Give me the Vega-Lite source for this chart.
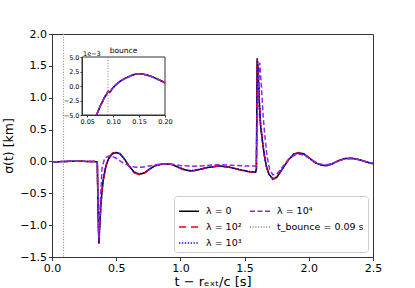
{
"$schema":"https://vega.github.io/schema/vega-lite/v6.json",
"width":321,"height":223,
"autosize":{"type":"none"},
"padding":{"left":52,"top":34,"right":42,"bottom":31},
"background":"white",
"config":{
 "font":"DejaVu Sans",
 "view":{"stroke":"#333","strokeWidth":1},
 "axis":{"grid":false,"labelFlush":false,"domainColor":"#333","tickColor":"#333","labelColor":"black","titleColor":"black","titleFontWeight":"normal","labelFont":"DejaVu Sans","titleFont":"DejaVu Sans"},
 "legend":{"orient":"bottom-right","offset":5,"columns":2,"columnPadding":5,"rowPadding":-4,"padding":4,"strokeColor":"#ccc","fillColor":"white","cornerRadius":3,"labelFontSize":9.5,"labelColor":"black","labelFont":"DejaVu Sans","symbolType":"stroke","symbolSize":400,"symbolStrokeWidth":1.5,"labelOffset":6}
},
"datasets":{
"main":[
{"s":"λ = 0","t":0,"v":-0.01},{"s":"λ = 0","t":0.05,"v":-0.004},{"s":"λ = 0","t":0.09,"v":-0.001},{"s":"λ = 0","t":0.1,"v":0},{"s":"λ = 0","t":0.15,"v":0.002},{"s":"λ = 0","t":0.2,"v":0.002},{"s":"λ = 0","t":0.25,"v":0.001},{"s":"λ = 0","t":0.3,"v":-0.001},{"s":"λ = 0","t":0.35,"v":-0.004},{"s":"λ = 0","t":0.353,"v":-0.02},{"s":"λ = 0","t":0.358,"v":-0.7},{"s":"λ = 0","t":0.365,"v":-1.29},{"s":"λ = 0","t":0.372,"v":-1.0},{"s":"λ = 0","t":0.38,"v":-0.7},{"s":"λ = 0","t":0.39,"v":-0.45},{"s":"λ = 0","t":0.4,"v":-0.28},{"s":"λ = 0","t":0.42,"v":-0.07},{"s":"λ = 0","t":0.44,"v":0.04},{"s":"λ = 0","t":0.47,"v":0.12},{"s":"λ = 0","t":0.5,"v":0.14},{"s":"λ = 0","t":0.53,"v":0.12},{"s":"λ = 0","t":0.56,"v":0.05},{"s":"λ = 0","t":0.6,"v":-0.07},{"s":"λ = 0","t":0.64,"v":-0.17},{"s":"λ = 0","t":0.68,"v":-0.2},{"s":"λ = 0","t":0.72,"v":-0.18},{"s":"λ = 0","t":0.76,"v":-0.12},{"s":"λ = 0","t":0.8,"v":-0.07},{"s":"λ = 0","t":0.85,"v":-0.045},{"s":"λ = 0","t":0.89,"v":-0.04},{"s":"λ = 0","t":0.93,"v":-0.045},{"s":"λ = 0","t":0.98,"v":-0.09},{"s":"λ = 0","t":1.03,"v":-0.13},{"s":"λ = 0","t":1.08,"v":-0.15},{"s":"λ = 0","t":1.13,"v":-0.135},{"s":"λ = 0","t":1.2,"v":-0.1},{"s":"λ = 0","t":1.3,"v":-0.07},{"s":"λ = 0","t":1.38,"v":-0.09},{"s":"λ = 0","t":1.46,"v":-0.13},{"s":"λ = 0","t":1.53,"v":-0.16},{"s":"λ = 0","t":1.585,"v":-0.17},{"s":"λ = 0","t":1.592,"v":-0.12},{"s":"λ = 0","t":1.595,"v":0.8},{"s":"λ = 0","t":1.598,"v":1.62},{"s":"λ = 0","t":1.605,"v":1.45},{"s":"λ = 0","t":1.615,"v":0.9},{"s":"λ = 0","t":1.625,"v":0.55},{"s":"λ = 0","t":1.64,"v":0.3},{"s":"λ = 0","t":1.655,"v":0.08},{"s":"λ = 0","t":1.67,"v":-0.08},{"s":"λ = 0","t":1.69,"v":-0.2},{"s":"λ = 0","t":1.72,"v":-0.275},{"s":"λ = 0","t":1.75,"v":-0.25},{"s":"λ = 0","t":1.79,"v":-0.13},{"s":"λ = 0","t":1.84,"v":0.02},{"s":"λ = 0","t":1.88,"v":0.11},{"s":"λ = 0","t":1.92,"v":0.135},{"s":"λ = 0","t":1.96,"v":0.12},{"s":"λ = 0","t":2.0,"v":0.06},{"s":"λ = 0","t":2.05,"v":-0.02},{"s":"λ = 0","t":2.1,"v":-0.06},{"s":"λ = 0","t":2.14,"v":-0.065},{"s":"λ = 0","t":2.18,"v":-0.04},{"s":"λ = 0","t":2.23,"v":0.01},{"s":"λ = 0","t":2.28,"v":0.045},{"s":"λ = 0","t":2.33,"v":0.05},{"s":"λ = 0","t":2.38,"v":0.035},{"s":"λ = 0","t":2.43,"v":0.005},{"s":"λ = 0","t":2.47,"v":-0.02},{"s":"λ = 0","t":2.5,"v":-0.035},
{"s":"λ = 10²","t":0,"v":-0.01},{"s":"λ = 10²","t":0.05,"v":-0.004},{"s":"λ = 10²","t":0.09,"v":-0.001},{"s":"λ = 10²","t":0.1,"v":0},{"s":"λ = 10²","t":0.15,"v":0.002},{"s":"λ = 10²","t":0.2,"v":0.002},{"s":"λ = 10²","t":0.25,"v":0.001},{"s":"λ = 10²","t":0.3,"v":-0.001},{"s":"λ = 10²","t":0.35,"v":-0.004},{"s":"λ = 10²","t":0.353,"v":-0.02},{"s":"λ = 10²","t":0.358,"v":-0.7},{"s":"λ = 10²","t":0.365,"v":-1.3},{"s":"λ = 10²","t":0.372,"v":-1.02},{"s":"λ = 10²","t":0.38,"v":-0.72},{"s":"λ = 10²","t":0.39,"v":-0.46},{"s":"λ = 10²","t":0.4,"v":-0.29},{"s":"λ = 10²","t":0.42,"v":-0.07},{"s":"λ = 10²","t":0.44,"v":0.045},{"s":"λ = 10²","t":0.47,"v":0.13},{"s":"λ = 10²","t":0.5,"v":0.15},{"s":"λ = 10²","t":0.53,"v":0.125},{"s":"λ = 10²","t":0.56,"v":0.05},{"s":"λ = 10²","t":0.6,"v":-0.075},{"s":"λ = 10²","t":0.64,"v":-0.18},{"s":"λ = 10²","t":0.68,"v":-0.21},{"s":"λ = 10²","t":0.72,"v":-0.185},{"s":"λ = 10²","t":0.76,"v":-0.12},{"s":"λ = 10²","t":0.8,"v":-0.07},{"s":"λ = 10²","t":0.85,"v":-0.045},{"s":"λ = 10²","t":0.89,"v":-0.04},{"s":"λ = 10²","t":0.93,"v":-0.045},{"s":"λ = 10²","t":0.98,"v":-0.09},{"s":"λ = 10²","t":1.03,"v":-0.135},{"s":"λ = 10²","t":1.08,"v":-0.155},{"s":"λ = 10²","t":1.13,"v":-0.14},{"s":"λ = 10²","t":1.2,"v":-0.1},{"s":"λ = 10²","t":1.3,"v":-0.07},{"s":"λ = 10²","t":1.38,"v":-0.09},{"s":"λ = 10²","t":1.46,"v":-0.13},{"s":"λ = 10²","t":1.53,"v":-0.16},{"s":"λ = 10²","t":1.585,"v":-0.17},{"s":"λ = 10²","t":1.592,"v":-0.12},{"s":"λ = 10²","t":1.595,"v":0.8},{"s":"λ = 10²","t":1.598,"v":1.6},{"s":"λ = 10²","t":1.605,"v":1.45},{"s":"λ = 10²","t":1.615,"v":0.9},{"s":"λ = 10²","t":1.625,"v":0.55},{"s":"λ = 10²","t":1.64,"v":0.3},{"s":"λ = 10²","t":1.655,"v":0.08},{"s":"λ = 10²","t":1.67,"v":-0.08},{"s":"λ = 10²","t":1.69,"v":-0.2},{"s":"λ = 10²","t":1.72,"v":-0.285},{"s":"λ = 10²","t":1.75,"v":-0.255},{"s":"λ = 10²","t":1.79,"v":-0.13},{"s":"λ = 10²","t":1.84,"v":0.02},{"s":"λ = 10²","t":1.88,"v":0.115},{"s":"λ = 10²","t":1.92,"v":0.14},{"s":"λ = 10²","t":1.96,"v":0.12},{"s":"λ = 10²","t":2.0,"v":0.06},{"s":"λ = 10²","t":2.05,"v":-0.02},{"s":"λ = 10²","t":2.1,"v":-0.06},{"s":"λ = 10²","t":2.14,"v":-0.065},{"s":"λ = 10²","t":2.18,"v":-0.04},{"s":"λ = 10²","t":2.23,"v":0.01},{"s":"λ = 10²","t":2.28,"v":0.045},{"s":"λ = 10²","t":2.33,"v":0.05},{"s":"λ = 10²","t":2.38,"v":0.035},{"s":"λ = 10²","t":2.43,"v":0.005},{"s":"λ = 10²","t":2.47,"v":-0.02},{"s":"λ = 10²","t":2.5,"v":-0.035},
{"s":"λ = 10³","t":0,"v":-0.01},{"s":"λ = 10³","t":0.05,"v":-0.004},{"s":"λ = 10³","t":0.09,"v":-0.001},{"s":"λ = 10³","t":0.1,"v":0},{"s":"λ = 10³","t":0.15,"v":0.002},{"s":"λ = 10³","t":0.2,"v":0.002},{"s":"λ = 10³","t":0.25,"v":0.001},{"s":"λ = 10³","t":0.3,"v":-0.001},{"s":"λ = 10³","t":0.35,"v":-0.004},{"s":"λ = 10³","t":0.353,"v":-0.02},{"s":"λ = 10³","t":0.358,"v":-0.7},{"s":"λ = 10³","t":0.365,"v":-1.28},{"s":"λ = 10³","t":0.372,"v":-0.98},{"s":"λ = 10³","t":0.38,"v":-0.68},{"s":"λ = 10³","t":0.39,"v":-0.43},{"s":"λ = 10³","t":0.4,"v":-0.26},{"s":"λ = 10³","t":0.42,"v":-0.06},{"s":"λ = 10³","t":0.44,"v":0.045},{"s":"λ = 10³","t":0.47,"v":0.12},{"s":"λ = 10³","t":0.5,"v":0.14},{"s":"λ = 10³","t":0.53,"v":0.115},{"s":"λ = 10³","t":0.56,"v":0.045},{"s":"λ = 10³","t":0.6,"v":-0.07},{"s":"λ = 10³","t":0.64,"v":-0.165},{"s":"λ = 10³","t":0.68,"v":-0.195},{"s":"λ = 10³","t":0.72,"v":-0.175},{"s":"λ = 10³","t":0.76,"v":-0.12},{"s":"λ = 10³","t":0.8,"v":-0.07},{"s":"λ = 10³","t":0.85,"v":-0.045},{"s":"λ = 10³","t":0.89,"v":-0.04},{"s":"λ = 10³","t":0.93,"v":-0.045},{"s":"λ = 10³","t":0.98,"v":-0.085},{"s":"λ = 10³","t":1.03,"v":-0.125},{"s":"λ = 10³","t":1.08,"v":-0.145},{"s":"λ = 10³","t":1.13,"v":-0.13},{"s":"λ = 10³","t":1.2,"v":-0.1},{"s":"λ = 10³","t":1.3,"v":-0.07},{"s":"λ = 10³","t":1.38,"v":-0.09},{"s":"λ = 10³","t":1.46,"v":-0.125},{"s":"λ = 10³","t":1.53,"v":-0.155},{"s":"λ = 10³","t":1.585,"v":-0.165},{"s":"λ = 10³","t":1.592,"v":-0.12},{"s":"λ = 10³","t":1.595,"v":0.7},{"s":"λ = 10³","t":1.598,"v":1.58},{"s":"λ = 10³","t":1.605,"v":1.5},{"s":"λ = 10³","t":1.615,"v":0.95},{"s":"λ = 10³","t":1.625,"v":0.58},{"s":"λ = 10³","t":1.64,"v":0.3},{"s":"λ = 10³","t":1.655,"v":0.08},{"s":"λ = 10³","t":1.67,"v":-0.08},{"s":"λ = 10³","t":1.69,"v":-0.2},{"s":"λ = 10³","t":1.72,"v":-0.27},{"s":"λ = 10³","t":1.75,"v":-0.245},{"s":"λ = 10³","t":1.79,"v":-0.13},{"s":"λ = 10³","t":1.84,"v":0.02},{"s":"λ = 10³","t":1.88,"v":0.11},{"s":"λ = 10³","t":1.92,"v":0.13},{"s":"λ = 10³","t":1.96,"v":0.115},{"s":"λ = 10³","t":2.0,"v":0.06},{"s":"λ = 10³","t":2.05,"v":-0.02},{"s":"λ = 10³","t":2.1,"v":-0.06},{"s":"λ = 10³","t":2.14,"v":-0.065},{"s":"λ = 10³","t":2.18,"v":-0.04},{"s":"λ = 10³","t":2.23,"v":0.01},{"s":"λ = 10³","t":2.28,"v":0.045},{"s":"λ = 10³","t":2.33,"v":0.05},{"s":"λ = 10³","t":2.38,"v":0.035},{"s":"λ = 10³","t":2.43,"v":0.005},{"s":"λ = 10³","t":2.47,"v":-0.02},{"s":"λ = 10³","t":2.5,"v":-0.035},
{"s":"λ = 10⁴","t":0,"v":-0.01},{"s":"λ = 10⁴","t":0.05,"v":-0.004},{"s":"λ = 10⁴","t":0.09,"v":-0.001},{"s":"λ = 10⁴","t":0.1,"v":0},{"s":"λ = 10⁴","t":0.15,"v":0.002},{"s":"λ = 10⁴","t":0.2,"v":0.002},{"s":"λ = 10⁴","t":0.25,"v":0.001},{"s":"λ = 10⁴","t":0.3,"v":-0.001},{"s":"λ = 10⁴","t":0.35,"v":-0.004},{"s":"λ = 10⁴","t":0.353,"v":-0.02},{"s":"λ = 10⁴","t":0.358,"v":-0.6},{"s":"λ = 10⁴","t":0.364,"v":-1.2},{"s":"λ = 10⁴","t":0.37,"v":-0.9},{"s":"λ = 10⁴","t":0.378,"v":-0.55},{"s":"λ = 10⁴","t":0.39,"v":-0.1},{"s":"λ = 10⁴","t":0.41,"v":0.05},{"s":"λ = 10⁴","t":0.44,"v":0.085},{"s":"λ = 10⁴","t":0.46,"v":0.085},{"s":"λ = 10⁴","t":0.5,"v":0.05},{"s":"λ = 10⁴","t":0.55,"v":-0.02},{"s":"λ = 10⁴","t":0.6,"v":-0.07},{"s":"λ = 10⁴","t":0.65,"v":-0.09},{"s":"λ = 10⁴","t":0.7,"v":-0.09},{"s":"λ = 10⁴","t":0.76,"v":-0.07},{"s":"λ = 10⁴","t":0.82,"v":-0.05},{"s":"λ = 10⁴","t":0.89,"v":-0.04},{"s":"λ = 10⁴","t":0.95,"v":-0.05},{"s":"λ = 10⁴","t":1.0,"v":-0.065},{"s":"λ = 10⁴","t":1.1,"v":-0.075},{"s":"λ = 10⁴","t":1.2,"v":-0.065},{"s":"λ = 10⁴","t":1.3,"v":-0.05},{"s":"λ = 10⁴","t":1.4,"v":-0.06},{"s":"λ = 10⁴","t":1.5,"v":-0.07},{"s":"λ = 10⁴","t":1.59,"v":-0.07},{"s":"λ = 10⁴","t":1.595,"v":0.3},{"s":"λ = 10⁴","t":1.605,"v":1.0},{"s":"λ = 10⁴","t":1.618,"v":1.55},{"s":"λ = 10⁴","t":1.63,"v":1.2},{"s":"λ = 10⁴","t":1.645,"v":0.7},{"s":"λ = 10⁴","t":1.66,"v":0.35},{"s":"λ = 10⁴","t":1.675,"v":0.08},{"s":"λ = 10⁴","t":1.695,"v":-0.12},{"s":"λ = 10⁴","t":1.72,"v":-0.21},{"s":"λ = 10⁴","t":1.75,"v":-0.2},{"s":"λ = 10⁴","t":1.79,"v":-0.1},{"s":"λ = 10⁴","t":1.84,"v":0.03},{"s":"λ = 10⁴","t":1.89,"v":0.1},{"s":"λ = 10⁴","t":1.93,"v":0.115},{"s":"λ = 10⁴","t":1.97,"v":0.09},{"s":"λ = 10⁴","t":2.02,"v":0.03},{"s":"λ = 10⁴","t":2.07,"v":-0.03},{"s":"λ = 10⁴","t":2.12,"v":-0.055},{"s":"λ = 10⁴","t":2.17,"v":-0.04},{"s":"λ = 10⁴","t":2.22,"v":0.0},{"s":"λ = 10⁴","t":2.28,"v":0.04},{"s":"λ = 10⁴","t":2.33,"v":0.045},{"s":"λ = 10⁴","t":2.38,"v":0.03},{"s":"λ = 10⁴","t":2.44,"v":0.0},{"s":"λ = 10⁴","t":2.5,"v":-0.03}
],
"inset":[
{"s":"λ = 0","t":0.068,"v":-0.005},{"s":"λ = 0","t":0.075,"v":-0.0035},{"s":"λ = 0","t":0.082,"v":-0.0022},{"s":"λ = 0","t":0.088,"v":-0.0013},{"s":"λ = 0","t":0.091,"v":-0.0009},{"s":"λ = 0","t":0.093,"v":-0.0011},{"s":"λ = 0","t":0.095,"v":-0.0009},{"s":"λ = 0","t":0.098,"v":-0.0005},{"s":"λ = 0","t":0.105,"v":0.0002},{"s":"λ = 0","t":0.115,"v":0.0009},{"s":"λ = 0","t":0.125,"v":0.0014},{"s":"λ = 0","t":0.135,"v":0.0018},{"s":"λ = 0","t":0.145,"v":0.0021},{"s":"λ = 0","t":0.155,"v":0.0021},{"s":"λ = 0","t":0.165,"v":0.0019},{"s":"λ = 0","t":0.175,"v":0.0016},{"s":"λ = 0","t":0.185,"v":0.0012},{"s":"λ = 0","t":0.195,"v":0.0008},{"s":"λ = 0","t":0.2,"v":0.0005},
{"s":"λ = 10²","t":0.068,"v":-0.005},{"s":"λ = 10²","t":0.075,"v":-0.0035},{"s":"λ = 10²","t":0.082,"v":-0.0022},{"s":"λ = 10²","t":0.088,"v":-0.0013},{"s":"λ = 10²","t":0.091,"v":-0.0009},{"s":"λ = 10²","t":0.093,"v":-0.0011},{"s":"λ = 10²","t":0.095,"v":-0.0009},{"s":"λ = 10²","t":0.098,"v":-0.0005},{"s":"λ = 10²","t":0.105,"v":0.0002},{"s":"λ = 10²","t":0.115,"v":0.0009},{"s":"λ = 10²","t":0.125,"v":0.0014},{"s":"λ = 10²","t":0.135,"v":0.0018},{"s":"λ = 10²","t":0.145,"v":0.0021},{"s":"λ = 10²","t":0.155,"v":0.0021},{"s":"λ = 10²","t":0.165,"v":0.0019},{"s":"λ = 10²","t":0.175,"v":0.0016},{"s":"λ = 10²","t":0.185,"v":0.0012},{"s":"λ = 10²","t":0.195,"v":0.0008},{"s":"λ = 10²","t":0.2,"v":0.0005},
{"s":"λ = 10³","t":0.068,"v":-0.005},{"s":"λ = 10³","t":0.075,"v":-0.0035},{"s":"λ = 10³","t":0.082,"v":-0.0022},{"s":"λ = 10³","t":0.088,"v":-0.0013},{"s":"λ = 10³","t":0.091,"v":-0.0009},{"s":"λ = 10³","t":0.093,"v":-0.0011},{"s":"λ = 10³","t":0.095,"v":-0.0009},{"s":"λ = 10³","t":0.098,"v":-0.0005},{"s":"λ = 10³","t":0.105,"v":0.0002},{"s":"λ = 10³","t":0.115,"v":0.0009},{"s":"λ = 10³","t":0.125,"v":0.0014},{"s":"λ = 10³","t":0.135,"v":0.0018},{"s":"λ = 10³","t":0.145,"v":0.0021},{"s":"λ = 10³","t":0.155,"v":0.0021},{"s":"λ = 10³","t":0.165,"v":0.0019},{"s":"λ = 10³","t":0.175,"v":0.0016},{"s":"λ = 10³","t":0.185,"v":0.0012},{"s":"λ = 10³","t":0.195,"v":0.0008},{"s":"λ = 10³","t":0.2,"v":0.0005},
{"s":"λ = 10⁴","t":0.068,"v":-0.005},{"s":"λ = 10⁴","t":0.075,"v":-0.0035},{"s":"λ = 10⁴","t":0.082,"v":-0.0022},{"s":"λ = 10⁴","t":0.088,"v":-0.0013},{"s":"λ = 10⁴","t":0.091,"v":-0.0009},{"s":"λ = 10⁴","t":0.093,"v":-0.0011},{"s":"λ = 10⁴","t":0.095,"v":-0.0009},{"s":"λ = 10⁴","t":0.098,"v":-0.0005},{"s":"λ = 10⁴","t":0.105,"v":0.0002},{"s":"λ = 10⁴","t":0.115,"v":0.0009},{"s":"λ = 10⁴","t":0.125,"v":0.0014},{"s":"λ = 10⁴","t":0.135,"v":0.0018},{"s":"λ = 10⁴","t":0.145,"v":0.0021},{"s":"λ = 10⁴","t":0.155,"v":0.0021},{"s":"λ = 10⁴","t":0.165,"v":0.0019},{"s":"λ = 10⁴","t":0.175,"v":0.0016},{"s":"λ = 10⁴","t":0.185,"v":0.0012},{"s":"λ = 10⁴","t":0.195,"v":0.0008},{"s":"λ = 10⁴","t":0.2,"v":0.0005}
],
"bounce":[{"s":"t_bounce = 0.09 s","t":0.09}],
"one":[{}]
},
"layer":[
 {"layer":[
  {"data":{"name":"main"},
   "mark":{"type":"line","strokeWidth":1.5},
   "encoding":{
    "x":{"field":"t","type":"quantitative","title":"t − rₑₓₜ/c [s]","scale":{"domain":[0,2.5],"nice":false,"zero":false},
         "axis":{"values":[0,0.5,1,1.5,2,2.5],"format":".1f","labelFontSize":11,"titleFontSize":13,"tickSize":3.5,"labelPadding":2,"titlePadding":2}},
    "y":{"field":"v","type":"quantitative","title":"σ(t) [km]","scale":{"domain":[-1.5,2],"nice":false,"zero":false},
         "axis":{"values":[-1.5,-1,-0.5,0,0.5,1,1.5,2],"format":".1f","labelFontSize":11,"titleFontSize":12.5,"tickSize":3.5,"labelPadding":2,"titlePadding":4}},
    "color":{"field":"s","type":"nominal","scale":{"domain":["λ = 0","λ = 10²","λ = 10³","λ = 10⁴","t_bounce = 0.09 s"],"range":["black","red","blue","#8a2be2","gray"]},"legend":{"title":null}},
    "strokeDash":{"field":"s","type":"nominal","scale":{"domain":["λ = 0","λ = 10²","λ = 10³","λ = 10⁴","t_bounce = 0.09 s"],"range":[[1,0],[7,5],[1.3,1.6],[5,2.5],[1,1.7]]},"legend":{"title":null}}
   }},
  {"data":{"name":"bounce"},
   "mark":{"type":"rule","strokeWidth":1},
   "encoding":{
    "x":{"field":"t","type":"quantitative"},
    "color":{"field":"s","type":"nominal"},
    "strokeDash":{"field":"s","type":"nominal"}
   }}
 ]},
 {"layer":[
  {"data":{"name":"one"},
   "mark":{"type":"rect","fill":"white","stroke":"#333","strokeWidth":1},
   "encoding":{
    "x":{"datum":0.04,"type":"quantitative","title":null},"x2":{"datum":0.2},
    "y":{"datum":-0.005,"type":"quantitative","title":null},"y2":{"datum":0.005}
   }},
  {"data":{"name":"inset"},
   "mark":{"type":"line","strokeWidth":1.5},
   "encoding":{
    "x":{"field":"t","type":"quantitative","title":null,"scale":{"domain":[0.04,0.2],"range":[30,113],"nice":false,"zero":false},
         "axis":{"orient":"bottom","offset":-142,"values":[0.05,0.1,0.15,0.2],"format":".2f","labelFontSize":6.5,"tickSize":2,"labelPadding":1,"zindex":1,"title":null}},
    "y":{"field":"v","type":"quantitative","title":null,"scale":{"domain":[-0.005,0.005],"range":[81,23],"nice":false,"zero":false},
         "axis":{"orient":"left","offset":-30,"values":[-0.005,-0.0025,0,0.0025,0.005],"labelExpr":"format(datum.value*1000,'.1f')","labelFontSize":6.5,"tickSize":2,"labelPadding":1,"zindex":1,"title":null}},
    "color":{"field":"s","type":"nominal"},
    "strokeDash":{"field":"s","type":"nominal"}
   }},
  {"data":{"name":"bounce"},
   "mark":{"type":"rule","strokeWidth":1},
   "encoding":{
    "x":{"field":"t","type":"quantitative","title":null},
    "y":{"datum":-0.005,"type":"quantitative","title":null},"y2":{"datum":0.005},
    "color":{"field":"s","type":"nominal"},
    "strokeDash":{"field":"s","type":"nominal"}
   }},
  {"data":{"name":"one"},
   "mark":{"type":"text","text":"bounce","fontSize":7.5,"baseline":"bottom","dy":-2,"font":"DejaVu Sans","color":"black"},
   "encoding":{"x":{"datum":0.12,"type":"quantitative","title":null},"y":{"datum":0.005,"type":"quantitative","title":null}}},
  {"data":{"name":"one"},
   "mark":{"type":"text","text":"1e−3","fontSize":6.5,"baseline":"bottom","align":"left","dx":1,"dy":0,"font":"DejaVu Sans","color":"black"},
   "encoding":{"x":{"datum":0.04,"type":"quantitative","title":null},"y":{"datum":0.005,"type":"quantitative","title":null}}}
 ]}
],
"resolve":{"scale":{"x":"independent","y":"independent"}}
}
